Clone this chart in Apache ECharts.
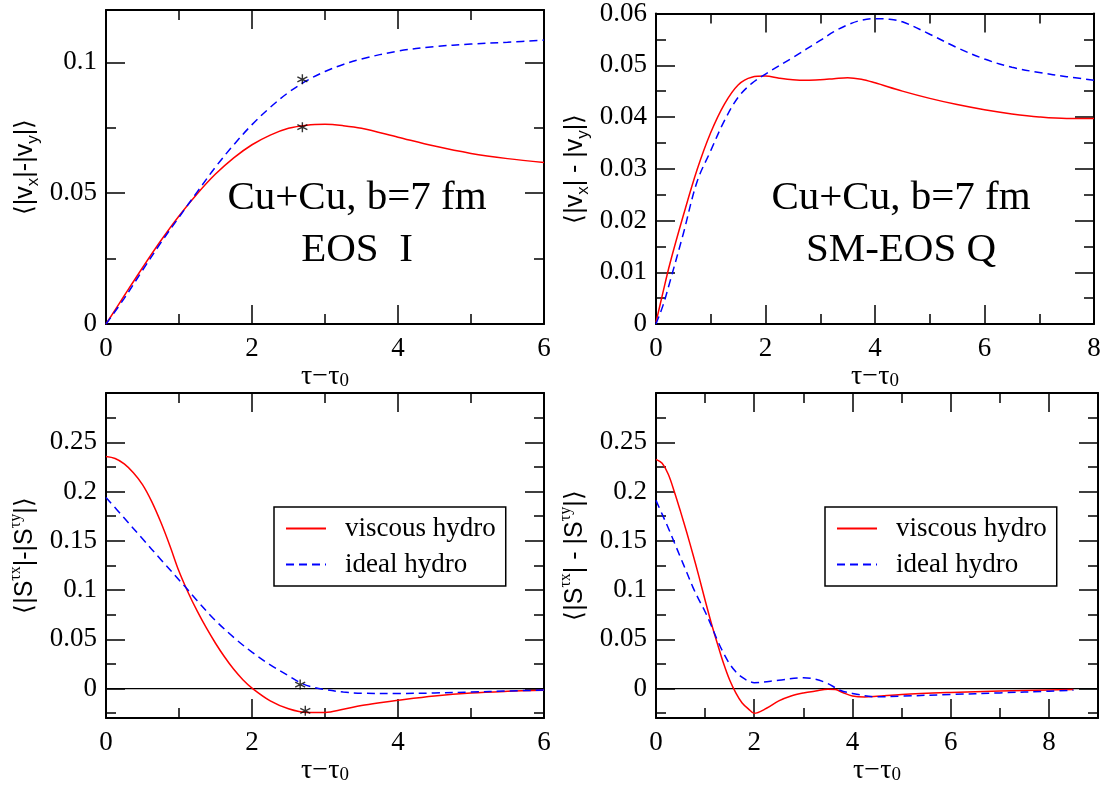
<!DOCTYPE html>
<html><head><meta charset="utf-8">
<script src="https://cdn.jsdelivr.net/npm/echarts@6/dist/echarts.min.js"></script>
<style>html,body{margin:0;padding:0;background:#fff}#c{width:1109px;height:786px}</style>
</head><body><div id="c"></div>
<script>
// ---------- data ----------
// Panel 1: Cu+Cu, b=7 fm, EOS I
const p1X       = [0, 0.25, 0.5, 0.75, 1, 1.25, 1.5, 1.75, 2, 2.25, 2.5, 2.75, 3, 3.25, 3.5, 4, 4.5, 5, 5.5, 6];
const p1Viscous = [0, 0.0108, 0.0215, 0.0318, 0.0413, 0.0498, 0.0573, 0.0635, 0.0685, 0.0722, 0.0748, 0.0760, 0.0763, 0.0758, 0.0748, 0.0714, 0.0680, 0.0652, 0.0632, 0.0617];
const p1Ideal   = [0, 0.0098, 0.0205, 0.031, 0.0408, 0.0505, 0.0600, 0.0685, 0.0762, 0.0828, 0.0885, 0.0930, 0.0965, 0.0992, 0.1013, 0.1043, 0.1060, 0.1070, 0.1077, 0.1085];
const p1MarkX   = [2.69, 2.69];
const p1MarkY   = [0.0935, 0.0752];

// Panel 2: Cu+Cu, b=7 fm, SM-EOS Q
const p2ViscousX = [0, 0.125, 0.25, 0.5, 0.75, 1, 1.25, 1.5, 1.75, 2, 2.25, 2.5, 2.75, 3, 3.25, 3.5, 3.75, 4, 4.5, 5, 5.5, 6, 6.5, 7, 7.5, 8];
const p2Viscous  = [0.0003, 0.006, 0.0115, 0.021, 0.0298, 0.037, 0.0425, 0.0462, 0.0477, 0.0479, 0.0475, 0.0472, 0.0471, 0.0472, 0.0474, 0.0476, 0.0473, 0.0466, 0.0450, 0.0436, 0.0424, 0.0414, 0.0406, 0.0400, 0.0397, 0.0397];
const p2IdealX   = [0, 0.125, 0.25, 0.5, 0.75, 1, 1.25, 1.5, 1.75, 2, 2.5, 3, 3.25, 3.5, 3.75, 4, 4.25, 4.5, 5, 5.5, 6, 6.5, 7, 7.5, 8];
const p2Ideal    = [0, 0.0035, 0.008, 0.0175, 0.0275, 0.0335, 0.0393, 0.0438, 0.0465, 0.0483, 0.0515, 0.0548, 0.0565, 0.0578, 0.0587, 0.0590, 0.0589, 0.0584, 0.0560, 0.0534, 0.0512, 0.0496, 0.0486, 0.0478, 0.0471];

// Panel 3: shear stress anisotropy, EOS I
const p3ViscousX = [0, 0.125, 0.25, 0.375, 0.5, 0.625, 0.75, 0.875, 1, 1.125, 1.25, 1.375, 1.5, 1.625, 1.75, 1.875, 2, 2.25, 2.5, 2.75, 3, 3.25, 3.5, 3.75, 4, 4.5, 5, 5.5, 6];
const p3Viscous  = [0.2355, 0.2335, 0.228, 0.219, 0.207, 0.19, 0.169, 0.145, 0.119, 0.0975, 0.0785, 0.0615, 0.046, 0.032, 0.0195, 0.009, 0.0005, -0.0125, -0.0205, -0.0243, -0.0242, -0.021, -0.0172, -0.0143, -0.0118, -0.0075, -0.0045, -0.0028, -0.0017];
const p3IdealX   = [0, 0.25, 0.5, 0.75, 1.07, 1.25, 1.5, 1.78, 2, 2.25, 2.5, 2.66, 2.8, 3, 3.25, 3.5, 4, 4.5, 5, 5.5, 6];
const p3Ideal    = [0.194, 0.173, 0.152, 0.131, 0.1045, 0.089, 0.069, 0.05, 0.037, 0.024, 0.013, 0.006, 0.002, -0.001, -0.0035, -0.0048, -0.005, -0.0045, -0.0035, -0.0025, -0.0015];
const p3MarkX    = [2.66, 2.73];
const p3MarkY    = [0.004, -0.0226];

// Panel 4: shear stress anisotropy, SM-EOS Q
const p4ViscousX = [0, 0.125, 0.25, 0.375, 0.5, 0.625, 0.75, 0.875, 1, 1.125, 1.25, 1.375, 1.5, 1.625, 1.75, 1.875, 2, 2.25, 2.5, 2.75, 3, 3.25, 3.5, 3.65, 3.8, 4, 4.25, 4.5, 5, 6, 7, 8, 8.5];
const p4Viscous  = [0.2326, 0.2286, 0.2176, 0.1996, 0.1796, 0.1586, 0.1366, 0.1136, 0.0896, 0.0666, 0.0456, 0.0256, 0.0086, -0.0044, -0.0144, -0.0204, -0.0251, -0.02, -0.0125, -0.0075, -0.0045, -0.0025, -0.0008, -0.001, -0.004, -0.0075, -0.0085, -0.0078, -0.006, -0.004, -0.0025, -0.0015, -0.001];
const p4IdealX   = [0, 0.125, 0.25, 0.375, 0.5, 0.625, 0.75, 0.875, 1, 1.125, 1.25, 1.375, 1.5, 1.625, 1.75, 1.875, 2, 2.5, 3, 3.25, 3.5, 3.75, 4, 4.5, 5, 6, 7, 8, 8.5];
const p4Ideal    = [0.191, 0.177, 0.163, 0.148, 0.133, 0.118, 0.103, 0.09, 0.078, 0.064, 0.049, 0.036, 0.025, 0.017, 0.0115, 0.0078, 0.006, 0.0084, 0.011, 0.0094, 0.005, -0.0017, -0.005, -0.0084, -0.0077, -0.006, -0.0044, -0.0027, -0.0017];

// tick values
const x6Major = [0, 2, 4, 6],       x6Minor = [1, 3, 5];
const x8Major = [0, 2, 4, 6, 8],    x8Minor = [1, 3, 5, 7];
const x9Major = [0, 2, 4, 6, 8],    x9Minor = [1, 3, 5, 7];
const y1Major = [0, 0.05, 0.1],     y1Minor = [0.025, 0.075];
const y2Major = [0, 0.01, 0.02, 0.03, 0.04, 0.05, 0.06];
const y2Minor = [0.005, 0.015, 0.025, 0.035, 0.045, 0.055];
const y3Major = [0, 0.05, 0.1, 0.15, 0.2, 0.25];
const y3Minor = [-0.025, 0.025, 0.075, 0.125, 0.175, 0.225, 0.275];

const seriesNames = ['viscous hydro', 'ideal hydro'];
const annotations = [
  ['Cu+Cu, b=7 fm', 'EOS  I'],
  ['Cu+Cu, b=7 fm', 'SM-EOS Q']
];

// ---------- chart ----------
const SERIF = 'Liberation Serif';
const SANS = 'Liberation Sans';
const zip = (xs, ys) => xs.map((x, i) => [x, ys[i]]);

const grids = [
  {left: 106, top: 10,  width: 438, height: 314},
  {left: 656, top: 10,  width: 438, height: 314},
  {left: 106, top: 393, width: 438, height: 326},
  {left: 656, top: 393, width: 442, height: 326}
];

const xAxes = [], yAxes = [];
const tickLine = {color: '#000', width: 1.5};
function addAxisSet(list, gi, isX, min, max, major, minor, name, nameGap, nameStyle) {
  const p1 = isX ? 'bottom' : 'left', p2 = isX ? 'top' : 'right';
  const idx = list.length;
  list.push({
    gridIndex: gi, type: 'value', position: p1, min, max,
    name, nameLocation: 'middle', nameGap, nameTextStyle: nameStyle,
    axisLine: {show: true, onZero: false, lineStyle: {color: '#000', width: 2}},
    axisTick: {show: true, inside: true, length: 19, customValues: major, lineStyle: tickLine},
    axisLabel: {show: true, customValues: major, margin: isX ? 11 : 9, color: '#000', fontFamily: SERIF, fontSize: 27},
    splitLine: {show: false}
  });
  list.push({
    gridIndex: gi, type: 'value', position: p1, min, max,
    axisLine: {show: false, onZero: false},
    axisTick: {show: true, inside: true, length: 10, customValues: minor, lineStyle: tickLine},
    axisLabel: {show: false}, splitLine: {show: false}
  });
  list.push({
    gridIndex: gi, type: 'value', position: p2, min, max,
    axisLine: {show: true, onZero: false, lineStyle: {color: '#000', width: 2}},
    axisTick: {show: true, inside: true, length: 19, customValues: major, lineStyle: tickLine},
    axisLabel: {show: false}, splitLine: {show: false}
  });
  list.push({
    gridIndex: gi, type: 'value', position: p2, min, max,
    axisLine: {show: false, onZero: false},
    axisTick: {show: true, inside: true, length: 10, customValues: minor, lineStyle: tickLine},
    axisLabel: {show: false}, splitLine: {show: false}
  });
  return idx;
}

const xNameStyle = {
  color: '#000', fontFamily: SERIF, fontSize: 28,
  rich: {sub: {fontFamily: SERIF, fontSize: 19, lineHeight: 15, verticalAlign: 'bottom', color: '#000'}}
};
const yNameStyle = {
  color: '#000', fontFamily: SANS, fontSize: 25, lineHeight: 34,
  rich: {
    sub: {fontFamily: SANS, fontSize: 17, lineHeight: 16, verticalAlign: 'bottom', color: '#000'},
    sup: {fontFamily: SERIF, fontSize: 16, lineHeight: 14, verticalAlign: 'top', color: '#000'}
  }
};
const xName = 'τ−τ{sub|0}';

const ax = [];
ax.push([addAxisSet(xAxes, 0, true, 0, 6, x6Major, x6Minor, xName, 30, xNameStyle),
         addAxisSet(yAxes, 0, false, 0, 0.12, y1Major, y1Minor, '⟨|v{sub|x}|-|v{sub|y}|⟩', 64, yNameStyle)]);
ax.push([addAxisSet(xAxes, 1, true, 0, 8, x8Major, x8Minor, xName, 30, xNameStyle),
         addAxisSet(yAxes, 1, false, 0, 0.06, y2Major, y2Minor, '⟨|v{sub|x}| - |v{sub|y}|⟩', 64, yNameStyle)]);
ax.push([addAxisSet(xAxes, 2, true, 0, 6, x6Major, x6Minor, xName, 30, xNameStyle),
         addAxisSet(yAxes, 2, false, -0.03, 0.3, y3Major, y3Minor, '⟨|S{sup|τx}|-|S{sup|τy}|⟩', 64, yNameStyle)]);
ax.push([addAxisSet(xAxes, 3, true, 0, 9, x9Major, x9Minor, xName, 30, xNameStyle),
         addAxisSet(yAxes, 3, false, -0.03, 0.3, y3Major, y3Minor, '⟨|S{sup|τx}| - |S{sup|τy}|⟩', 64, yNameStyle)]);

function viscous(p, xs, ys) {
  return {type: 'line', name: seriesNames[0], xAxisIndex: ax[p][0], yAxisIndex: ax[p][1],
    data: zip(xs, ys), symbol: 'none', showSymbol: false, smooth: 0.35, z: 4,
    lineStyle: {color: '#ff0000', width: 1.5}, itemStyle: {color: '#ff0000'}};
}
function ideal(p, xs, ys) {
  return {type: 'line', name: seriesNames[1], xAxisIndex: ax[p][0], yAxisIndex: ax[p][1],
    data: zip(xs, ys), symbol: 'none', showSymbol: false, smooth: 0.35, z: 5,
    lineStyle: {color: '#0000ff', width: 1.5, type: [8, 5]}, itemStyle: {color: '#0000ff'}};
}
function zeroLine(p, xmax) {
  return {type: 'line', name: 'zero', xAxisIndex: ax[p][0], yAxisIndex: ax[p][1],
    data: [[0, 0], [xmax, 0]], symbol: 'none', silent: true, z: 2,
    lineStyle: {color: '#000', width: 1.3}};
}
const ASTER = 'path://M0,-10L0,10M-8.66,-5L8.66,5M-8.66,5L8.66,-5';
function marks(p, xs, ys) {
  return {type: 'scatter', name: 'marks', xAxisIndex: ax[p][0], yAxisIndex: ax[p][1],
    data: zip(xs, ys), symbol: ASTER, symbolSize: 10, silent: true, z: 6,
    itemStyle: {color: 'rgba(0,0,0,0)', borderColor: '#000', borderWidth: 1.4}};
}

const series = [
  viscous(0, p1X, p1Viscous), ideal(0, p1X, p1Ideal), marks(0, p1MarkX, p1MarkY),
  viscous(1, p2ViscousX, p2Viscous), ideal(1, p2IdealX, p2Ideal),
  zeroLine(2, 6), viscous(2, p3ViscousX, p3Viscous), ideal(2, p3IdealX, p3Ideal), marks(2, p3MarkX, p3MarkY),
  zeroLine(3, 9), viscous(3, p4ViscousX, p4Viscous), ideal(3, p4IdealX, p4Ideal)
];

function legendAt(left) {
  return {
    data: seriesNames.map(n => ({name: n})), orient: 'vertical', left, top: 507,
    padding: [8, 10, 8, 11], itemGap: 9, itemWidth: 40, itemHeight: 14,
    borderColor: '#000', borderWidth: 1.5, backgroundColor: '#fff',
    selectedMode: false,
    itemStyle: {opacity: 0},
    textStyle: {color: '#000', fontFamily: SERIF, fontSize: 27, lineHeight: 26, padding: [0, 0, 0, 14]}
  };
}

const annotFont = '41px "Liberation Serif"';
const graphic = [
  {type: 'text', x: 357, y: 198, style: {text: annotations[0][0], fill: '#000', font: annotFont, textAlign: 'center', textVerticalAlign: 'middle'}},
  {type: 'text', x: 357, y: 250, style: {text: annotations[0][1], fill: '#000', font: annotFont, textAlign: 'center', textVerticalAlign: 'middle'}},
  {type: 'text', x: 901, y: 198, style: {text: annotations[1][0], fill: '#000', font: annotFont, textAlign: 'center', textVerticalAlign: 'middle'}},
  {type: 'text', x: 901, y: 250, style: {text: annotations[1][1], fill: '#000', font: annotFont, textAlign: 'center', textVerticalAlign: 'middle'}}
];

const chart = echarts.init(document.getElementById('c'), null, {renderer: 'canvas'});
chart.setOption({
  animation: false,
  backgroundColor: '#fff',
  grid: grids,
  xAxis: xAxes,
  yAxis: yAxes,
  legend: [legendAt(274), legendAt(825)],
  graphic,
  series
});
</script></body></html>
